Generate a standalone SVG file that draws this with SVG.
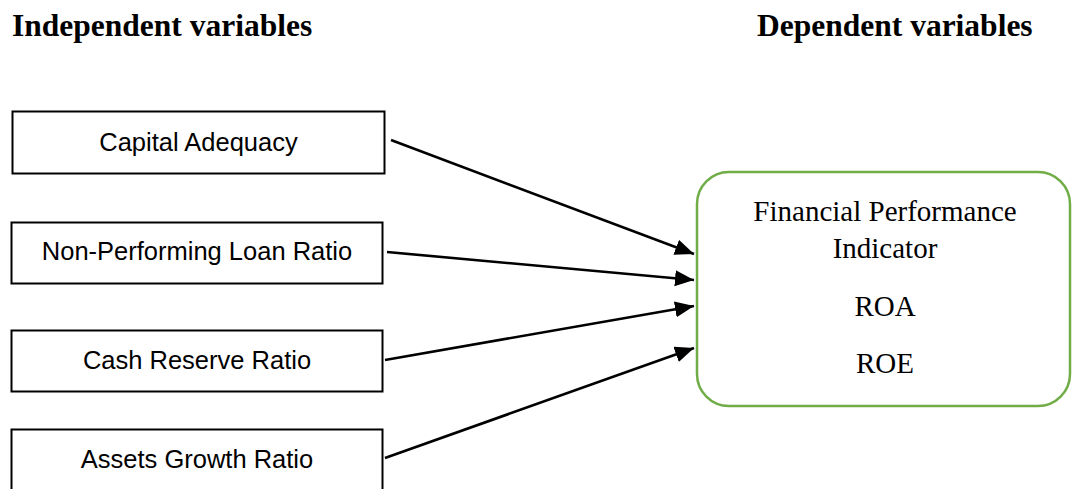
<svg xmlns="http://www.w3.org/2000/svg" width="1072" height="489" viewBox="0 0 1072 489">
  <style>
    .hdr { font-family: "Liberation Serif", "Times New Roman", serif; font-weight: bold; font-size: 31.5px; fill: #000; }
    .box { fill: #fff; stroke: #000; stroke-width: 2; }
    .lbl { font-family: "Liberation Sans", Arial, sans-serif; font-size: 25.5px; fill: #000; text-anchor: middle; }
    .dep { fill: #fff; stroke: #70AD47; stroke-width: 2.5; }
    .dlbl { font-family: "Liberation Serif", "Times New Roman", serif; font-size: 29px; fill: #000; text-anchor: middle; }
    .conn { stroke: #000; stroke-width: 2.6; fill: none; marker-end: url(#arrow); }
  </style>
  <defs>
    <marker id="arrow" markerUnits="userSpaceOnUse" markerWidth="22" markerHeight="18" refX="19" refY="8" orient="auto">
      <path d="M0,0 L19,8 L0,16 Z" fill="#000"/>
    </marker>
  </defs>
  <rect width="1072" height="489" fill="#fff"/>

  <text class="hdr" x="12" y="36">Independent variables</text>
  <text class="hdr" x="757" y="36">Dependent variables</text>

  <g id="capital-adequacy">
    <rect class="box" x="12.5" y="111.5" width="372" height="62"/>
    <text class="lbl" x="198.5" y="151">Capital Adequacy</text>
  </g>
  <g id="npl-ratio">
    <rect class="box" x="11.5" y="222.5" width="371" height="61"/>
    <text class="lbl" x="197" y="260">Non-Performing Loan Ratio</text>
  </g>
  <g id="cash-reserve-ratio">
    <rect class="box" x="11.5" y="330.5" width="371" height="61"/>
    <text class="lbl" x="197" y="369">Cash Reserve Ratio</text>
  </g>
  <g id="assets-growth-ratio">
    <rect class="box" x="11.5" y="429.5" width="371" height="70"/>
    <text class="lbl" x="197" y="468">Assets Growth Ratio</text>
  </g>

  <g id="financial-performance">
    <rect class="dep" x="697" y="172" width="373" height="234" rx="32" ry="32"/>
    <text class="dlbl" x="885" y="221">Financial Performance</text>
    <text class="dlbl" x="885" y="258">Indicator</text>
    <text class="dlbl" x="885" y="316">ROA</text>
    <text class="dlbl" x="885" y="373">ROE</text>
  </g>

  <g id="connectors">
    <line class="conn" x1="391" y1="140" x2="694" y2="254"/>
    <line class="conn" x1="387" y1="252" x2="694" y2="280"/>
    <line class="conn" x1="385" y1="360" x2="694" y2="306"/>
    <line class="conn" x1="385" y1="458" x2="694" y2="348"/>
  </g>
</svg>
